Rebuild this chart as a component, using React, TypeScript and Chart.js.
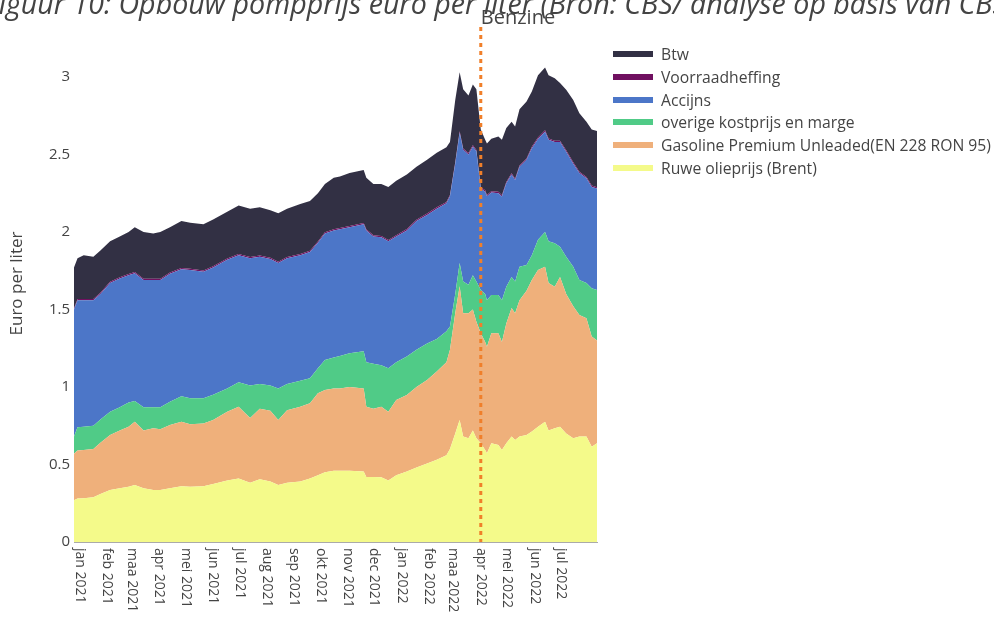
import React, { useEffect, useRef } from 'react';
import { Chart, registerables } from 'chart.js';

Chart.register(...registerables);

// day offsets from 1 jan 2021
const days = [-7, -3, 4, 15, 23, 34, 45, 55, 62, 72, 83, 91, 102, 115, 125, 140, 151, 167, 180, 193, 204, 216, 225, 235, 250, 261, 270, 278, 288, 295, 306, 322, 325, 333, 342, 350, 359, 371, 382, 394, 405, 416, 420, 426, 431, 435, 441, 446, 450, 455, 460, 462, 467, 475, 479, 484, 490, 494, 499, 507, 513, 520, 528, 532, 539, 545, 552, 560, 567, 575, 581, 587];

const brent = [0.270, 0.280, 0.282, 0.288, 0.310, 0.335, 0.346, 0.357, 0.368, 0.346, 0.335, 0.335, 0.346, 0.360, 0.357, 0.360, 0.374, 0.396, 0.410, 0.383, 0.404, 0.390, 0.368, 0.383, 0.390, 0.410, 0.430, 0.450, 0.460, 0.460, 0.460, 0.454, 0.420, 0.420, 0.417, 0.396, 0.430, 0.454, 0.480, 0.507, 0.530, 0.560, 0.600, 0.700, 0.787, 0.680, 0.670, 0.720, 0.670, 0.637, 0.594, 0.572, 0.637, 0.626, 0.594, 0.637, 0.680, 0.658, 0.680, 0.690, 0.712, 0.744, 0.776, 0.720, 0.733, 0.744, 0.700, 0.670, 0.680, 0.680, 0.615, 0.637];

const gasoline = [0.300, 0.310, 0.312, 0.312, 0.330, 0.355, 0.374, 0.387, 0.408, 0.374, 0.398, 0.392, 0.409, 0.416, 0.403, 0.405, 0.413, 0.444, 0.463, 0.417, 0.456, 0.457, 0.419, 0.467, 0.483, 0.485, 0.530, 0.530, 0.530, 0.530, 0.540, 0.536, 0.453, 0.440, 0.456, 0.444, 0.486, 0.494, 0.520, 0.538, 0.570, 0.600, 0.640, 0.775, 0.863, 0.795, 0.805, 0.780, 0.750, 0.709, 0.696, 0.688, 0.709, 0.720, 0.696, 0.773, 0.830, 0.817, 0.880, 0.930, 0.978, 1.011, 1.000, 0.950, 0.914, 0.966, 0.900, 0.850, 0.785, 0.763, 0.710, 0.663];

const overige = [0.110, 0.150, 0.150, 0.150, 0.150, 0.150, 0.150, 0.156, 0.134, 0.150, 0.137, 0.143, 0.150, 0.164, 0.167, 0.162, 0.163, 0.150, 0.157, 0.210, 0.160, 0.163, 0.203, 0.170, 0.167, 0.161, 0.160, 0.194, 0.200, 0.210, 0.217, 0.240, 0.287, 0.290, 0.267, 0.280, 0.244, 0.248, 0.240, 0.235, 0.210, 0.200, 0.150, 0.125, 0.150, 0.205, 0.185, 0.220, 0.260, 0.280, 0.310, 0.300, 0.248, 0.248, 0.270, 0.237, 0.200, 0.205, 0.216, 0.167, 0.160, 0.195, 0.224, 0.270, 0.280, 0.195, 0.240, 0.256, 0.225, 0.227, 0.312, 0.326];

const accijns = [0.820, 0.820, 0.816, 0.810, 0.810, 0.830, 0.830, 0.820, 0.823, 0.820, 0.820, 0.820, 0.825, 0.820, 0.828, 0.817, 0.820, 0.830, 0.820, 0.820, 0.820, 0.816, 0.810, 0.810, 0.810, 0.814, 0.810, 0.816, 0.820, 0.817, 0.813, 0.820, 0.850, 0.820, 0.826, 0.820, 0.810, 0.814, 0.830, 0.830, 0.840, 0.825, 0.840, 0.840, 0.840, 0.850, 0.840, 0.830, 0.840, 0.654, 0.660, 0.670, 0.660, 0.656, 0.668, 0.667, 0.660, 0.655, 0.644, 0.678, 0.690, 0.650, 0.647, 0.654, 0.653, 0.675, 0.678, 0.664, 0.690, 0.676, 0.653, 0.654];

const voorraadheffing = [0.008, 0.008, 0.008, 0.008, 0.008, 0.008, 0.008, 0.008, 0.008, 0.008, 0.008, 0.008, 0.008, 0.008, 0.008, 0.008, 0.008, 0.008, 0.008, 0.008, 0.008, 0.008, 0.008, 0.008, 0.008, 0.008, 0.008, 0.008, 0.008, 0.008, 0.008, 0.008, 0.008, 0.008, 0.008, 0.008, 0.008, 0.009, 0.009, 0.009, 0.009, 0.009, 0.009, 0.009, 0.009, 0.009, 0.009, 0.009, 0.009, 0.009, 0.009, 0.009, 0.009, 0.009, 0.009, 0.009, 0.009, 0.009, 0.009, 0.009, 0.009, 0.009, 0.009, 0.009, 0.009, 0.009, 0.009, 0.009, 0.009, 0.009, 0.009, 0.009];

const btw = [0.262, 0.262, 0.282, 0.272, 0.272, 0.262, 0.262, 0.272, 0.289, 0.302, 0.292, 0.302, 0.292, 0.302, 0.297, 0.298, 0.302, 0.302, 0.312, 0.312, 0.312, 0.306, 0.312, 0.312, 0.322, 0.322, 0.312, 0.312, 0.332, 0.332, 0.342, 0.342, 0.332, 0.332, 0.336, 0.342, 0.352, 0.352, 0.342, 0.347, 0.352, 0.353, 0.342, 0.402, 0.382, 0.382, 0.372, 0.392, 0.392, 0.372, 0.326, 0.332, 0.338, 0.357, 0.358, 0.348, 0.332, 0.337, 0.362, 0.367, 0.357, 0.402, 0.405, 0.408, 0.402, 0.372, 0.390, 0.402, 0.377, 0.356, 0.362, 0.362];

const monthTicks = [0, 31, 59, 90, 120, 151, 181, 212, 243, 273, 304, 334, 365, 396, 424, 455, 485, 516, 546];
const monthLabels = ['jan 2021', 'feb 2021', 'maa 2021', 'apr 2021', 'mei 2021', 'jun 2021', 'jul 2021', 'aug 2021', 'sep 2021', 'okt 2021', 'nov 2021', 'dec 2021', 'jan 2022', 'feb 2022', 'maa 2022', 'apr 2022', 'mei 2022', 'jun 2022', 'jul 2022'];
const yTicks = [0, 0.5, 1, 1.5, 2, 2.5, 3];
const cutDay = 455; // 1 april 2022, accijnsverlaging

const seriesNames = ['Ruwe olieprijs (Brent)', 'Gasoline Premium Unleaded(EN 228 RON 95)', 'overige kostprijs en marge', 'Accijns', 'Voorraadheffing', 'Btw'];
const seriesColors = ['#F4FA8A', '#EFB07B', '#50CB87', '#4C76C8', '#701060', '#323044'];

const FONT = "'Open Sans', sans-serif";
const TXT = '#444';

export default function App() {
  const ref = useRef<HTMLCanvasElement | null>(null);

  useEffect(() => {
    if (!ref.current) return;
    const values = [brent, gasoline, overige, accijns, voorraadheffing, btw];
    const datasets = values.map((arr, i) => ({
      label: seriesNames[i],
      data: arr.map((v, j) => ({ x: days[j], y: v })),
      backgroundColor: seriesColors[i],
      borderColor: 'rgba(0,0,0,0)',
      borderWidth: 0,
      pointRadius: 0,
      tension: 0,
      fill: i === 0 ? 'origin' : '-1',
    }));

    const overlay = {
      id: 'overlay',
      afterDatasetsDraw(chart: any) {
        const { ctx, chartArea, scales } = chart;
        const x = scales.x.getPixelForValue(cutDay);
        ctx.save();
        ctx.strokeStyle = '#F07F2A';
        ctx.lineWidth = 3;
        ctx.setLineDash([4, 4]);
        ctx.beginPath();
        ctx.moveTo(x, chartArea.top + 2);
        ctx.lineTo(x, chartArea.bottom);
        ctx.stroke();
        ctx.restore();
      },
      afterDraw(chart: any) {
        const { ctx, chartArea, scales } = chart;
        ctx.save();
        ctx.fillStyle = TXT;
        ctx.font = `14px ${FONT}`;
        ctx.textAlign = 'left';
        ctx.textBaseline = 'middle';
        monthTicks.forEach((d, i) => {
          const x = scales.x.getPixelForValue(d);
          ctx.save();
          ctx.translate(x, chartArea.bottom + 6);
          ctx.rotate(Math.PI / 2);
          ctx.fillText(monthLabels[i], 0, 0);
          ctx.restore();
        });
        ctx.restore();
      },
    };

    const chart = new Chart(ref.current, {
      type: 'line',
      data: { datasets: datasets as any },
      options: {
        animation: false,
        responsive: false,
        maintainAspectRatio: false,
        layout: { padding: { top: 25, right: 397, left: 0, bottom: 0 } },
        plugins: { legend: { display: false }, tooltip: { enabled: false } },
        elements: { line: { borderWidth: 0 } },
        scales: {
          x: {
            type: 'linear',
            min: -7,
            max: 587,
            grid: { display: false, drawTicks: false },
            border: { display: true, color: '#aaa', width: 1 },
            ticks: { display: false },
            afterBuildTicks: (s: any) => { s.ticks = monthTicks.map((v) => ({ value: v })); },
            afterFit: (s: any) => { s.height = 75; },
          },
          y: {
            stacked: true,
            min: 0,
            max: 3.335,
            grid: { display: false, drawTicks: false },
            border: { display: false },
            ticks: { color: TXT, font: { family: FONT, size: 15 }, padding: 4, callback: (v: any) => String(v) },
            afterBuildTicks: (s: any) => { s.ticks = yTicks.map((v) => ({ value: v })); },
            afterFit: (s: any) => { s.width = 74; },
            title: { display: true, text: 'Euro per liter', color: TXT, font: { family: FONT, size: 17 }, padding: { top: 7, bottom: 0 } },
          },
        },
      },
      plugins: [overlay],
    });
    return () => chart.destroy();
  }, []);

  const legendOrder = [5, 4, 3, 2, 1, 0];

  return (
    <div style={{ position: 'fixed', left: 0, top: 0, width: 994, height: 617, background: '#fff', overflow: 'hidden', fontFamily: FONT }}>
      <canvas ref={ref} width={994} height={617} style={{ position: 'absolute', left: 0, top: 0, width: 994, height: 617 }} />
      <div style={{ position: 'absolute', left: -15, top: -12, whiteSpace: 'nowrap', fontSize: 28.6, lineHeight: '29px', fontStyle: 'italic', color: TXT }}>
        Figuur 10: Opbouw pompprijs euro per liter (Bron: CBS/ analyse op basis van CBS)
      </div>
      <div style={{ position: 'absolute', left: 418, width: 200, top: 6, textAlign: 'center', fontSize: 20, lineHeight: '22px', color: TXT }}>
        Benzine
      </div>
      {legendOrder.map((si, k) => (
        <div key={si} style={{ position: 'absolute', left: 613, top: 54 + k * 22.8 - 10, height: 20, display: 'flex', alignItems: 'center', whiteSpace: 'nowrap' }}>
          <div style={{ width: 40, height: 6, background: seriesColors[si] }} />
          <span style={{ marginLeft: 8, fontSize: 15.7, color: TXT }}>{seriesNames[si]}</span>
        </div>
      ))}
    </div>
  );
}
